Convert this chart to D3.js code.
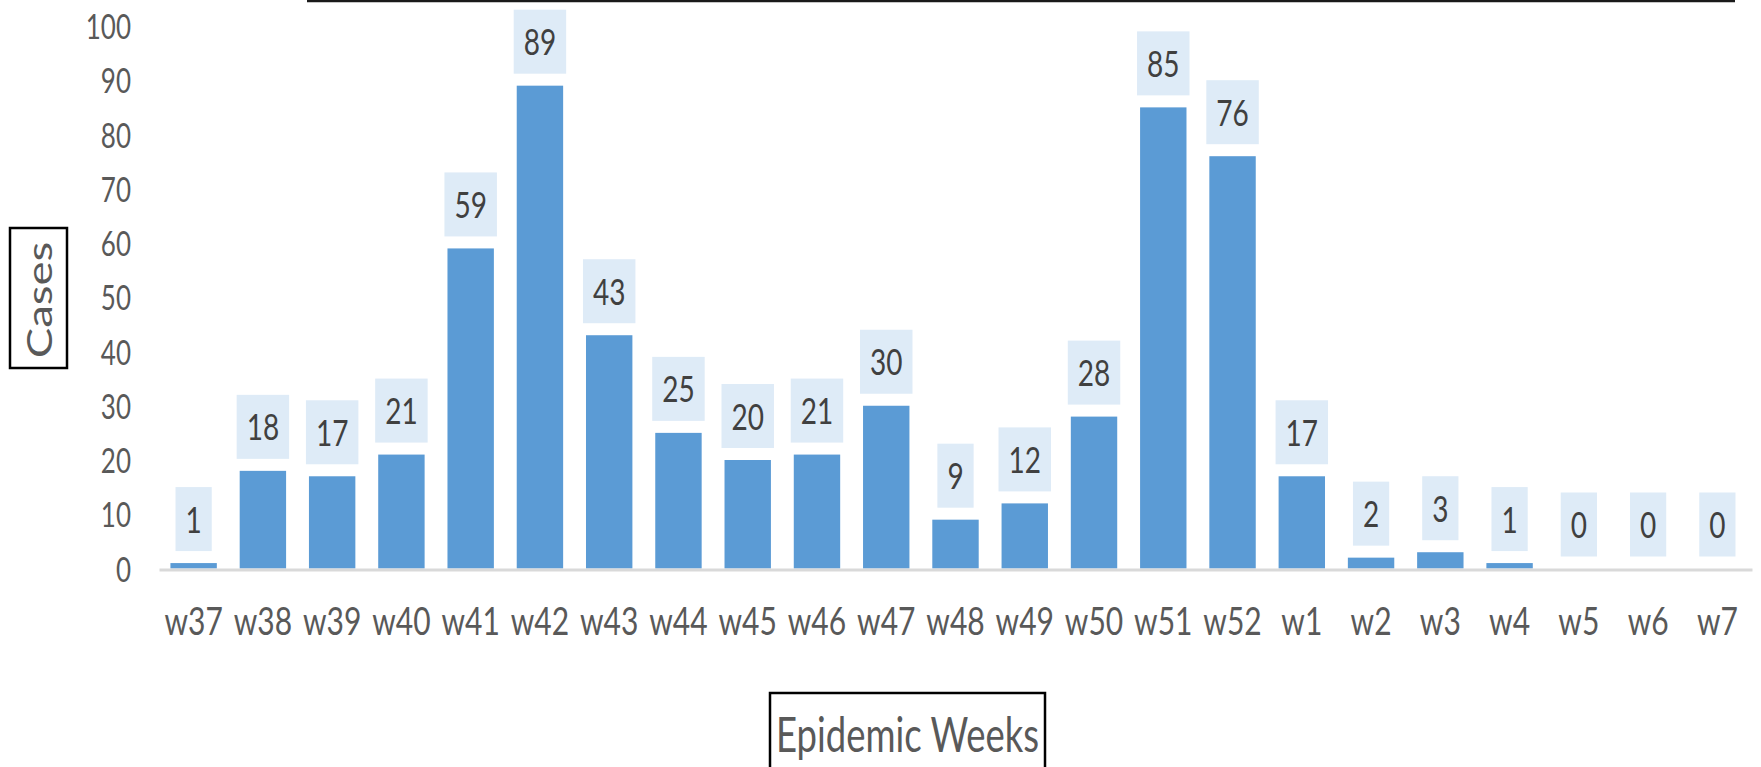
<!DOCTYPE html>
<html>
<head>
<meta charset="utf-8">
<script src="https://cdn.jsdelivr.net/npm/d3@7"></script>
<style>
  body { margin: 0; background: #fff; }
  svg { display: block; font-family: Lato, 'Open Sans', sans-serif; }
</style>
</head>
<body>
<div id="chart"></div>
<script>
// Data
const weeks = ['w37', 'w38', 'w39', 'w40', 'w41', 'w42', 'w43', 'w44', 'w45', 'w46', 'w47', 'w48',
  'w49', 'w50', 'w51', 'w52', 'w1', 'w2', 'w3', 'w4', 'w5', 'w6', 'w7'];
const cases = [1, 18, 17, 21, 59, 89, 43, 25, 20, 21, 30, 9, 12, 28, 85, 76, 17, 2, 3, 1, 0, 0, 0];
const yTicks = [0, 10, 20, 30, 40, 50, 60, 70, 80, 90, 100];
const yTitle = 'Cases';
const xTitle = 'Epidemic Weeks';

const width = 1761;
const height = 767;
const plot = { left: 159, right: 1752, top: 26, bottom: 568.5 };
const stretch = 1.34; // text in the reference is drawn tall and narrow

const svg = d3.select('#chart').append('svg')
  .attr('width', width)
  .attr('height', height);

// Scales
const x = d3.scaleBand()
  .domain(weeks)
  .range([plot.left, plot.right])
  .paddingInner(0.33)
  .paddingOuter(0.165);

const y = d3.scaleLinear()
  .domain([0, 100])
  .range([plot.bottom, plot.top]);

const rows = weeks.map((w, i) => ({ week: w, value: cases[i] }));

// Top border line left over from the title box
svg.append('line')
  .attr('x1', 307).attr('x2', 1735)
  .attr('y1', 1).attr('y2', 1)
  .attr('stroke', '#1a1a1a')
  .attr('stroke-width', 2.5);

// Bars
svg.append('g')
  .selectAll('rect')
  .data(rows)
  .join('rect')
  .attr('x', (d) => x(d.week))
  .attr('y', (d) => y(d.value))
  .attr('width', x.bandwidth())
  .attr('height', (d) => y(0) - y(d.value))
  .attr('fill', '#5b9bd5');

// y axis (labels only)
const gy = svg.append('g')
  .attr('transform', `translate(${plot.left},0)`)
  .call(d3.axisLeft(y).tickValues(yTicks).tickSize(0).tickPadding(0));
gy.attr('font-family', null).attr('font-size', 26);
gy.select('.domain').remove();
gy.selectAll('text')
  .attr('x', 0)
  .attr('dy', '0.36em')
  .attr('fill', '#595959')
  .attr('transform', `translate(-28,0) scale(1,${stretch})`);

// x axis
const gx = svg.append('g')
  .attr('transform', `translate(0,${plot.bottom + 1})`)
  .call(d3.axisBottom(x).tickSize(0).tickPadding(0));
gx.attr('font-family', null).attr('font-size', 30);
gx.select('.domain')
  .attr('stroke', '#d9d9d9')
  .attr('stroke-width', 3);
gx.selectAll('text')
  .attr('y', 0)
  .attr('dy', '0.36em')
  .attr('fill', '#595959')
  .attr('transform', `translate(0,51.5) scale(1,${stretch * 0.95})`);

// Data labels in light boxes
const labels = svg.append('g')
  .selectAll('g')
  .data(rows)
  .join('g')
  .attr('transform', (d) => `translate(${x(d.week) + x.bandwidth() / 2},${y(d.value) - 12 - 32})`);

labels.append('rect')
  .attr('y', -32)
  .attr('height', 64)
  .attr('fill', '#deebf7');

labels.append('text')
  .text((d) => d.value)
  .attr('text-anchor', 'middle')
  .attr('dy', '0.36em')
  .attr('font-size', 28)
  .attr('fill', '#404040')
  .attr('transform', `scale(1,${stretch})`);

labels.each(function () {
  const g = d3.select(this);
  const w = g.select('text').node().getComputedTextLength() + 20;
  g.select('rect').attr('x', -w / 2).attr('width', w);
});

// y title
svg.append('rect')
  .attr('x', 10).attr('y', 228)
  .attr('width', 57).attr('height', 140)
  .attr('fill', '#fff')
  .attr('stroke', '#000')
  .attr('stroke-width', 2.5);

svg.append('text')
  .text(yTitle)
  .attr('text-anchor', 'middle')
  .attr('font-size', 34)
  .attr('fill', '#595959')
  .attr('transform', `translate(52,300) rotate(-90) scale(${stretch},1)`);

// x title
svg.append('rect')
  .attr('x', 770).attr('y', 693)
  .attr('width', 275).attr('height', 100)
  .attr('fill', '#fff')
  .attr('stroke', '#000')
  .attr('stroke-width', 2.5);

svg.append('text')
  .text(xTitle)
  .attr('text-anchor', 'middle')
  .attr('font-size', 36.5)
  .attr('fill', '#595959')
  .attr('transform', `translate(907.5,752) scale(1,${stretch})`);
</script>
</body>
</html>
